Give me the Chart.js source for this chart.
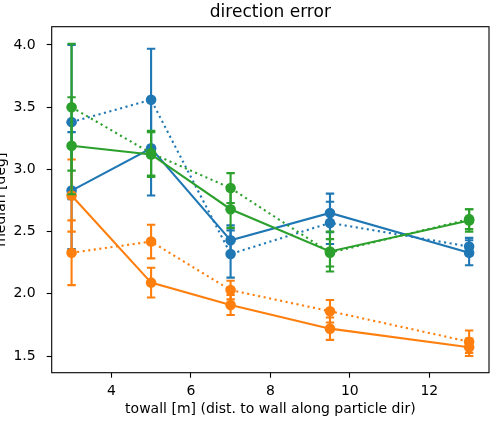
<!DOCTYPE html>
<html>
<head>
<meta charset="utf-8">
<script src="https://cdn.jsdelivr.net/npm/chart.js@4"></script>
<style>
  html, body { margin: 0; padding: 0; background: #fff; }
  #wrap { width: 500px; height: 422px; position: relative; overflow: hidden; }
</style>
</head>
<body>
<div id="wrap"><canvas id="chart" width="500" height="422"></canvas></div>
<script>
const towall = [3, 5, 7, 9.5, 13];

const blueSolid = [2.83, 3.17, 2.43, 2.65, 2.33];
const blueSolidErr = [0.47, 0.38, 0.12, 0.155, 0.10];
const blueDotted = [3.38, 3.56, 2.32, 2.57, 2.38];
const blueDottedErr = [0.62, 0.41, 0.19, 0.17, 0.07];

const orangeSolid = [2.79, 2.09, 1.91, 1.72, 1.57];
const orangeSolidErr = [0.29, 0.12, 0.08, 0.09, 0.07];
const orangeDotted = [2.33, 2.42, 2.03, 1.86, 1.615];
const orangeDottedErr = [0.26, 0.135, 0.075, 0.09, 0.09];

const greenSolid = [3.19, 3.12, 2.68, 2.34, 2.59];
const greenSolidErr = [0.39, 0.18, 0.15, 0.16, 0.09];
const greenDotted = [3.50, 3.13, 2.85, 2.33, 2.60];
const greenDottedErr = [0.51, 0.18, 0.12, 0.11, 0.08];

const xTicks = [4, 6, 8, 10, 12];
const yTicks = [1.5, 2.0, 2.5, 3.0, 3.5, 4.0];

const C0 = "#1f77b4";
const C1 = "#ff7f0e";
const C2 = "#2ca02c";
const LW = 2.1;

function series(values, errs, color, dotted, i) {
  return {
    data: towall.map((x, k) => ({ x: x, y: values[k] })),
    errors: errs,
    borderColor: color,
    backgroundColor: color,
    pointBackgroundColor: color,
    pointBorderWidth: 0,
    pointRadius: 5.3,
    borderWidth: LW,
    borderDash: dotted ? [2.1, 3.5] : [],
    showLine: true,
    tension: 0,
    // first series sits at the bottom, like matplotlib call order
    order: 10 - i,
  };
}

const datasets = [
  series(blueSolid, blueSolidErr, C0, false, 0),
  series(blueDotted, blueDottedErr, C0, true, 1),
  series(orangeSolid, orangeSolidErr, C1, false, 2),
  series(orangeDotted, orangeDottedErr, C1, true, 3),
  series(greenSolid, greenSolidErr, C2, false, 4),
  series(greenDotted, greenDottedErr, C2, true, 5),
];

// vertical error bars with caps, drawn just under each dataset's line
const errorBars = {
  id: "errorBars",
  beforeDatasetDraw(chart, args) {
    const ds = chart.data.datasets[args.index];
    const y = chart.scales.y;
    const ctx = chart.ctx;
    ctx.save();
    ctx.strokeStyle = ds.borderColor;
    ctx.lineWidth = LW;
    ctx.setLineDash([]);
    args.meta.data.forEach((pt, k) => {
      const v = ds.data[k].y;
      const e = ds.errors[k];
      const top = y.getPixelForValue(v + e);
      const bot = y.getPixelForValue(v - e);
      ctx.beginPath();
      ctx.moveTo(pt.x, top);
      ctx.lineTo(pt.x, bot);
      ctx.moveTo(pt.x - 4.2, top);
      ctx.lineTo(pt.x + 4.2, top);
      ctx.moveTo(pt.x - 4.2, bot);
      ctx.lineTo(pt.x + 4.2, bot);
      ctx.stroke();
    });
    ctx.restore();
  },
};

const frame = {
  id: "frame",
  afterDatasetsDraw(chart) {
    const a = chart.chartArea;
    const ctx = chart.ctx;
    ctx.save();
    ctx.strokeStyle = "#000";
    ctx.lineWidth = 1.1;
    ctx.strokeRect(a.left, a.top, a.right - a.left, a.bottom - a.top);
    ctx.restore();
  },
};

const font = { family: "DejaVu Sans", size: 14 };

new Chart(document.getElementById("chart"), {
  type: "scatter",
  data: { datasets: datasets },
  plugins: [errorBars, frame],
  options: {
    responsive: false,
    animation: false,
    devicePixelRatio: 1,
    layout: { padding: { left: 0, top: 0, bottom: 0, right: 11 } },
    plugins: {
      legend: { display: false },
      tooltip: { enabled: false },
      title: {
        display: true,
        text: "direction error",
        color: "#000",
        fullSize: false,
        font: { family: "DejaVu Sans", size: 17, weight: "normal" },
        padding: { top: 2, bottom: 4.3 },
      },
    },
    scales: {
      x: {
        type: "linear",
        min: 2.5,
        max: 13.5,
        afterBuildTicks: (s) => { s.ticks = xTicks.map((v) => ({ value: v })); },
        afterFit: (s) => { s.height = 49.3; },
        grid: { display: true, drawOnChartArea: false, drawTicks: true, tickLength: 5, tickColor: "#000", tickWidth: 1.1 },
        border: { display: false },
        ticks: { color: "#000", font: font, padding: 5, maxRotation: 0 },
        title: {
          display: true,
          text: "towall [m] (dist. to wall along particle dir)",
          color: "#000",
          font: font,
          padding: { top: 0, bottom: 4.6 },
        },
      },
      y: {
        type: "linear",
        min: 1.366,
        max: 4.147,
        afterBuildTicks: (s) => { s.ticks = yTicks.map((v) => ({ value: v })); },
        afterFit: (s) => { s.width = 51.7; },
        grid: { display: true, drawOnChartArea: false, drawTicks: true, tickLength: 5, tickColor: "#000", tickWidth: 1.1 },
        border: { display: false },
        ticks: { color: "#000", font: font, padding: 11, callback: (v) => v.toFixed(1) },
        title: {
          display: true,
          text: "median [deg]",
          color: "#000",
          font: font,
          padding: { top: -7, bottom: 0 },
        },
      },
    },
  },
});
</script>
</body>
</html>
